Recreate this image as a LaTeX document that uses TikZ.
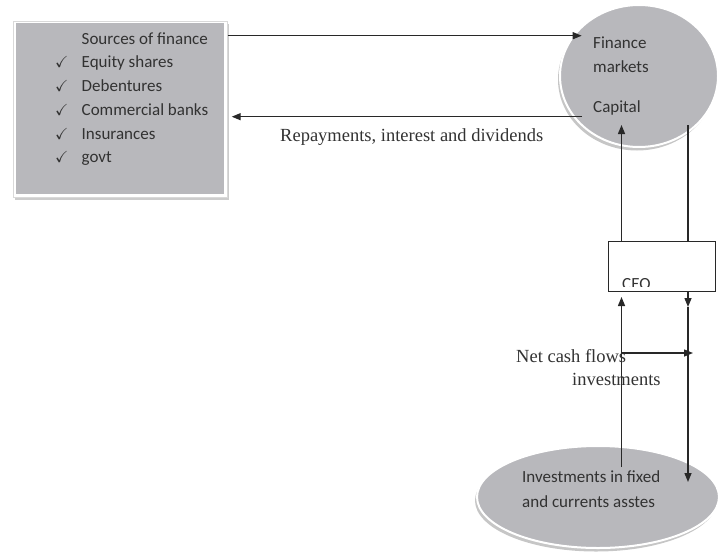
\documentclass[tikz,border=0pt]{standalone}
\usepackage{amssymb}
\usepackage{fontspec}
\setmainfont{Liberation Serif}
\newfontfamily\calib{Carlito}
\usetikzlibrary{shapes.geometric,arrows.meta}
\definecolor{fillgray}{RGB}{184,184,188}
\definecolor{ink}{RGB}{40,40,40}
\definecolor{txt}{RGB}{50,50,50}
\begin{document}
\begin{tikzpicture}[x=1pt,y=-1pt,
  arr/.style={-{Triangle[length=9pt,width=7pt]}, line width=1.4pt, draw=ink},
  plain/.style={line width=1.4pt, draw=ink},
  cal/.style={font=\calib\fontsize{17}{20}\selectfont, text=txt, inner sep=0pt, anchor=base west},
  ser/.style={font=\fontsize{18.5}{22}\selectfont, text=txt, inner sep=0pt, anchor=base west},
  chk/.style={font=\fontsize{16}{18}\selectfont, text=txt, inner sep=0pt, anchor=base west},
  oval/.style={ellipse, fill=fillgray, draw=white, line width=2pt, inner sep=0pt},
  ovalshadow/.style={ellipse, fill=gray!45, inner sep=0pt}]
\useasboundingbox (0,0) rectangle (719,551);

% sources of finance panel
\fill[gray!40] (15,24) rectangle (229,199.5);
\node[draw=gray!30, line width=0.5pt, fill=white, minimum width=214pt, minimum height=176pt,
      inner sep=0pt, anchor=north west] (src) at (13,21) {};
\node[fill=fillgray, minimum width=208pt, minimum height=170.5pt, inner sep=0pt,
      anchor=north west] (srcfill) at (15.5,23) {};
\node[cal] (title) at (81.5,44.5) {Sources of finance};
\foreach \y/\t [count=\i] in {67.5/Equity shares, 91.5/Debentures, 115.5/Commercial banks,
                              139.5/Insurances, 162.5/govt}{
  \node[chk] (c\i) at (55,\y) {$\checkmark$};
  \node[cal] (s\i) at (81.5,\y) {\t};
}

% finance markets
\node[ovalshadow, minimum width=158pt, minimum height=142pt] (finsh) at (637,79.5) {};
\node[oval, minimum width=158pt, minimum height=142pt] (fin) at (639,76) {};
\node[cal] (fin1) at (593,48.5) {Finance};
\node[cal] (fin2) at (593,72.5) {markets};
\node[cal] (fin3) at (593,112.5) {Capital};

% investments
\node[ovalshadow, minimum width=242pt, minimum height=102pt] (invsh) at (596,500.5) {};
\node[oval, minimum width=242pt, minimum height=102pt] (inv) at (598,497) {};
\node[cal] (inv1) at (522,482.5) {Investments in fixed};
\node[cal] (inv2) at (522,507.5) {and currents asstes};

% CEO box, label cut by the frame
\node[draw=ink, line width=1.1pt, fill=white, minimum width=107pt, minimum height=50pt,
      inner sep=0pt, anchor=north west] (ceo) at (608,241) {};
\begin{scope}
  \clip (609,242) rectangle (714,286);
  \node[cal] (ceotxt) at (622,289) {CEO};
\end{scope}

% flows between panel and markets
\coordinate (finIn) at (581.7,35.7);
\coordinate (finOut) at (582,116.7);
\coordinate (srcIn) at (231.7,116.7);
\draw[arr] (src.east |- finIn) -- (finIn);
\draw[arr] (finOut) -- (srcIn);
\node[ser] (repay) at (280,141) {Repayments, interest and dividends};

% flows through the CEO
\coordinate (capL) at (621.5,125);
\coordinate (capR) at (688,125);
\coordinate (midR) at (688,307);
\coordinate (invR) at (688,482);
\coordinate (invL) at (621.5,467);
\coordinate (ceoL) at (621.5,297);
\coordinate (ncfL) at (621.5,353);
\coordinate (ncfR) at (693,353);
\draw[arr] (ceo.north -| capL) -- (capL);
\draw[plain] (capR) -- (ceo.north -| capR);
\draw[arr] (ceo.south -| midR) -- (midR);
\draw[arr] (midR) -- (invR);
\draw[arr] (invL) -- (ceoL);
\draw[arr] (ncfL) -- (ncfR);
\node[ser] (ncf1) at (516,362) {Net cash flows};
\node[ser] (ncf2) at (572,385) {investments};
\end{tikzpicture}
\end{document}
